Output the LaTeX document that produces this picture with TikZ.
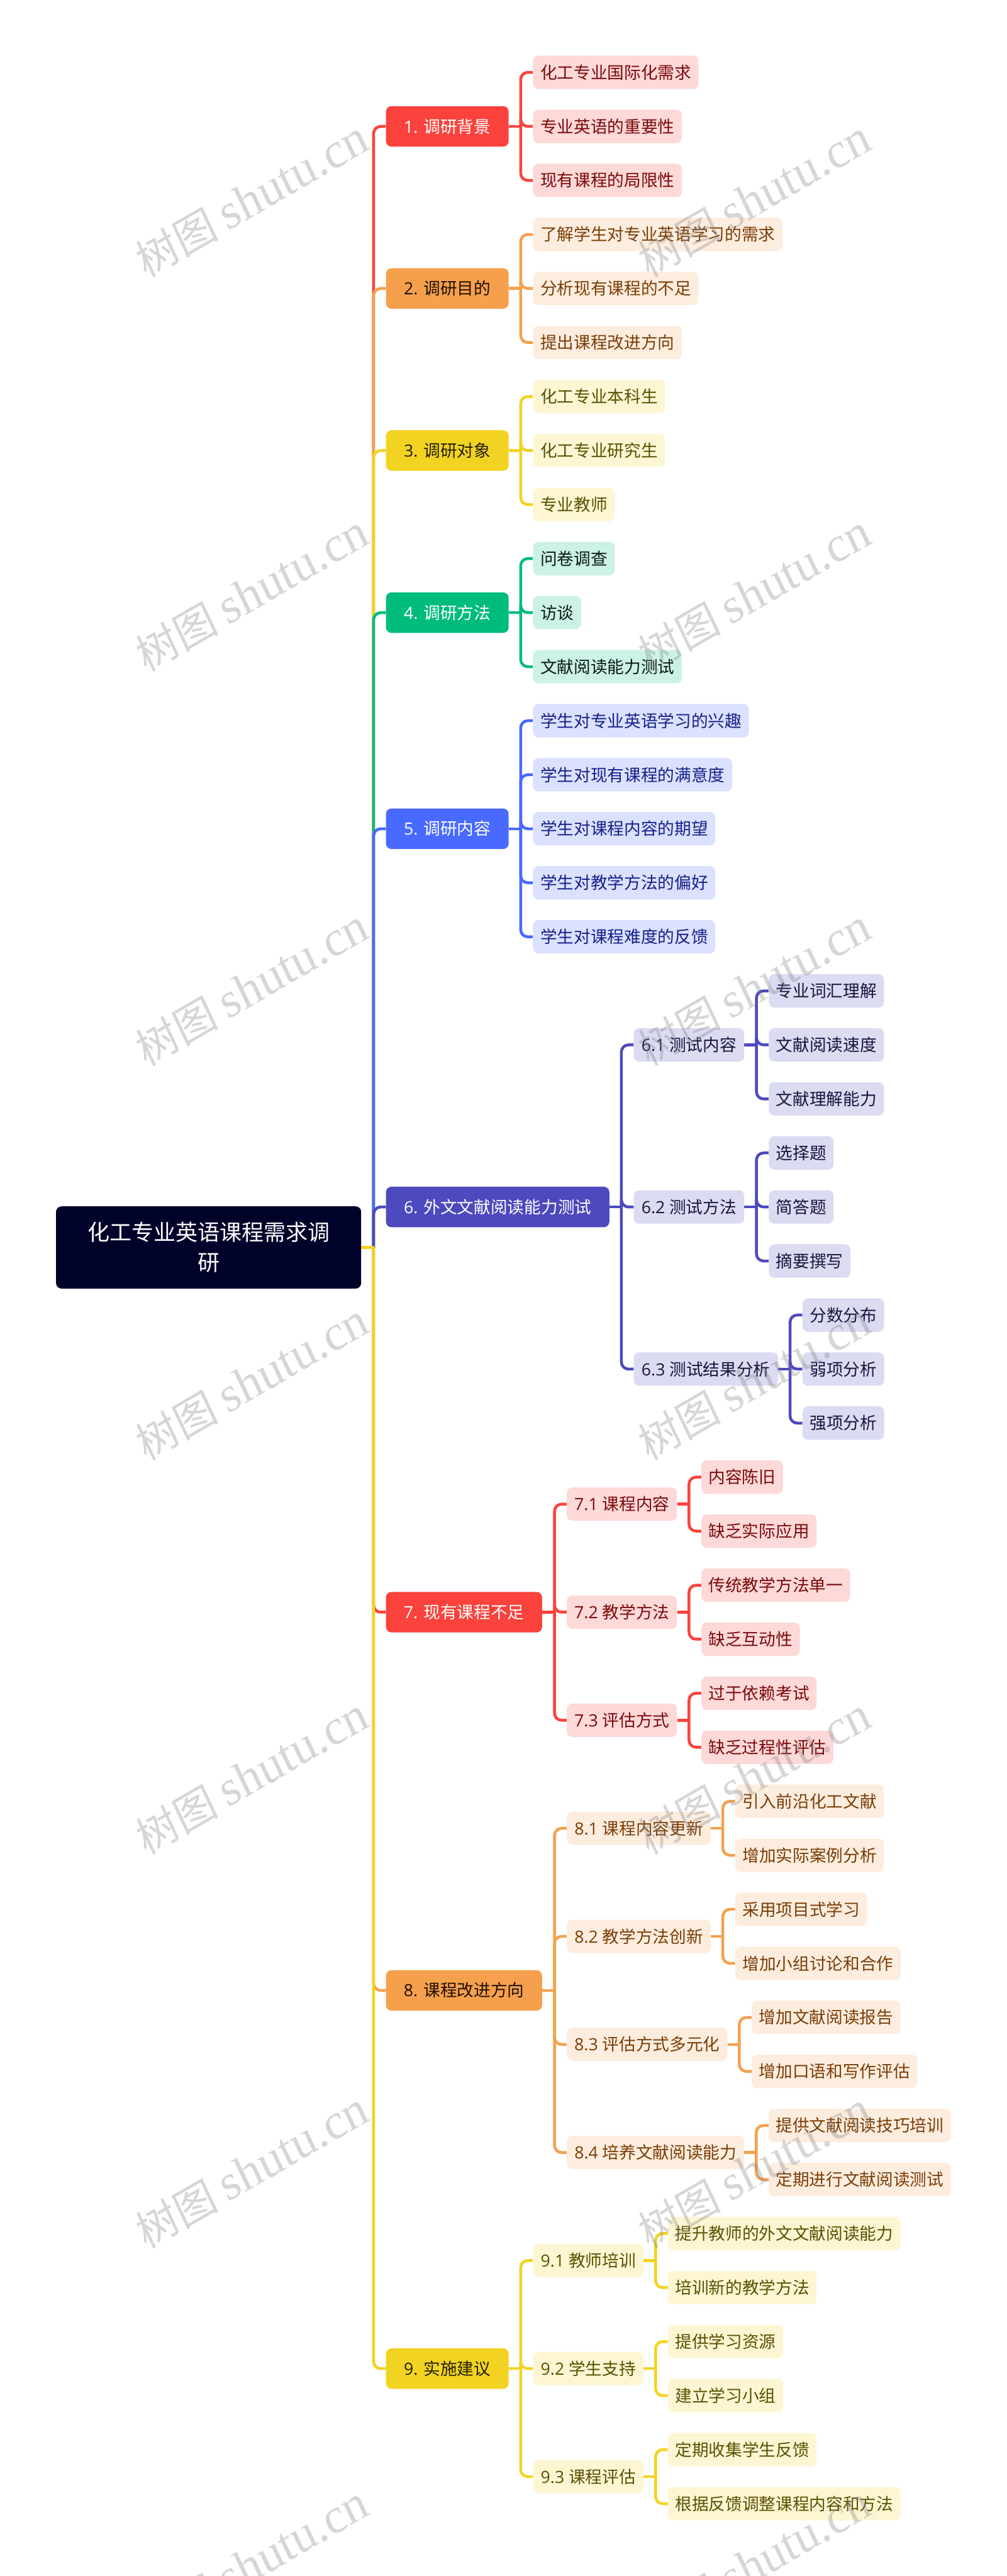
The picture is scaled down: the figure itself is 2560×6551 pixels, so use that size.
\documentclass[tikz,border=0pt]{standalone}
\usepackage{fontspec}
\setmainfont{Noto Sans CJK SC}
\newfontfamily\lat{Open Sans}
\newfontfamily\wmcjk[FakeSlant=0.08]{Noto Sans CJK SC}
\newfontfamily\wmlat[FakeSlant=0.08]{Liberation Serif}
\usetikzlibrary{calc,backgrounds}
\definecolor{cR}{HTML}{FB423C}\definecolor{lR}{HTML}{FDD9D8}\definecolor{tR}{HTML}{7A0A0A}
\definecolor{cO}{HTML}{F6A04D}\definecolor{lO}{HTML}{FDEDDF}\definecolor{tO}{HTML}{7A3D05}
\definecolor{cY}{HTML}{F3D321}\definecolor{lY}{HTML}{FCF6D3}\definecolor{tY}{HTML}{5B5000}
\definecolor{cG}{HTML}{00BC7B}\definecolor{lG}{HTML}{CCF2E5}\definecolor{tG}{HTML}{0A1A14}
\definecolor{cB}{HTML}{486AFF}\definecolor{lB}{HTML}{DBE1FE}\definecolor{tB}{HTML}{14208A}
\definecolor{cP}{HTML}{4D49BE}\definecolor{lP}{HTML}{DBDBF2}\definecolor{tP}{HTML}{16163F}
\definecolor{cRoot}{HTML}{000229}
\tikzset{
  base/.style={anchor=west,rounded corners=7pt,inner xsep=0pt,inner ysep=0pt,
    align=center,text height=18.77pt,text depth=2.56pt,font=\fontsize{21.33}{26}\selectfont},
  L1/.style n args={3}{base,fill=#1,text=#2,minimum width=#3*0.5pt,minimum height=51.5pt},
  L2/.style n args={3}{base,fill=#1,text=#2,minimum width=#3*0.5pt,minimum height=42.5pt},
  L3/.style 2 args={base,fill=#1,text=#2,inner xsep=9.25pt,minimum height=42.5pt},
  conn/.style={line width=3.6pt,line cap=butt,line join=round},
  wm/.style={anchor=base west,rotate=30,inner sep=0pt,text=black!50,text opacity=.32},
}
\newcommand{\lk}[3]{%
  \draw[conn,#1] (#2.east) -- ($(#2.east -| #3.west)+(-29.2,0)$);
  \draw[conn,#1,rounded corners=9pt] ($(#2.east -| #3.west)+(-31,0)$) |- (#3.west);
}
\newcommand{\rl}[2]{{\lat #1 }#2}
\begin{document}
\begin{tikzpicture}[x=0.5pt,y=-0.5pt]
\useasboundingbox (0,0) rectangle (2560,6551);

% root
\node[anchor=west,fill=cRoot,text=white,rounded corners=7pt,inner sep=0pt,minimum width=388pt,minimum height=104.5pt,align=center,
  font=\fontsize{28}{38.5}\selectfont] (root) at (142,3172.4) {化工专业英语课程需求调\\研};

% level 1
\node[L1={cR}{white}{312}] (a1) at (981,321.4) {\rl{1.}{调研背景}};
\node[L1={cO}{black!75!tO}{312}] (a2) at (981,733.6) {\rl{2.}{调研目的}};
\node[L1={cY}{black!60!tY}{312}] (a3) at (981,1145.8) {\rl{3.}{调研对象}};
\node[L1={cG}{white}{312}] (a4) at (981,1558) {\rl{4.}{调研方法}};
\node[L1={cB}{white}{312}] (a5) at (981,2107.6) {\rl{5.}{调研内容}};
\node[L1={cP}{white}{568}] (a6) at (981,3069.4) {\rl{6.}{外文文献阅读能力测试}};
\node[L1={cR}{white}{397}] (a7) at (981,4099.9) {\rl{7.}{现有课程不足}};
\node[L1={cO}{black!75!tO}{397}] (a8) at (981,5061.7) {\rl{8.}{课程改进方向}};
\node[L1={cY}{black!60!tY}{312}] (a9) at (981,6023.5) {\rl{9.}{实施建议}};

% leaves of 1-5
\node[L3={lR}{tR}] (b11) at (1355,184) {化工专业国际化需求};
\node[L3={lR}{tR}] (b12) at (1355,321.4) {专业英语的重要性};
\node[L3={lR}{tR}] (b13) at (1355,458.8) {现有课程的局限性};
\node[L3={lO}{tO}] (b21) at (1355,596.2) {了解学生对专业英语学习的需求};
\node[L3={lO}{tO}] (b22) at (1355,733.6) {分析现有课程的不足};
\node[L3={lO}{tO}] (b23) at (1355,871) {提出课程改进方向};
\node[L3={lY}{tY}] (b31) at (1355,1008.4) {化工专业本科生};
\node[L3={lY}{tY}] (b32) at (1355,1145.8) {化工专业研究生};
\node[L3={lY}{tY}] (b33) at (1355,1283.2) {专业教师};
\node[L3={lG}{tG}] (b41) at (1355,1420.6) {问卷调查};
\node[L3={lG}{tG}] (b42) at (1355,1558) {访谈};
\node[L3={lG}{tG}] (b43) at (1355,1695.4) {文献阅读能力测试};
\node[L3={lB}{tB}] (b51) at (1355,1832.8) {学生对专业英语学习的兴趣};
\node[L3={lB}{tB}] (b52) at (1355,1970.2) {学生对现有课程的满意度};
\node[L3={lB}{tB}] (b53) at (1355,2107.6) {学生对课程内容的期望};
\node[L3={lB}{tB}] (b54) at (1355,2245) {学生对教学方法的偏好};
\node[L3={lB}{tB}] (b55) at (1355,2382.4) {学生对课程难度的反馈};

% group 6
\node[L2={lP}{tP}{281}] (b61) at (1611,2657.2) {\rl{6.1}{测试内容}};
\node[L2={lP}{tP}{281}] (b62) at (1611,3069.4) {\rl{6.2}{测试方法}};
\node[L2={lP}{tP}{367}] (b63) at (1611,3481.6) {\rl{6.3}{测试结果分析}};
\node[L3={lP}{tP}] (c611) at (1954.5,2519.8) {专业词汇理解};
\node[L3={lP}{tP}] (c612) at (1954.5,2657.2) {文献阅读速度};
\node[L3={lP}{tP}] (c613) at (1954.5,2794.6) {文献理解能力};
\node[L3={lP}{tP}] (c621) at (1954.5,2932) {选择题};
\node[L3={lP}{tP}] (c622) at (1954.5,3069.4) {简答题};
\node[L3={lP}{tP}] (c623) at (1954.5,3206.8) {摘要撰写};
\node[L3={lP}{tP}] (c631) at (2040,3344.2) {分数分布};
\node[L3={lP}{tP}] (c632) at (2040,3481.6) {弱项分析};
\node[L3={lP}{tP}] (c633) at (2040,3619) {强项分析};

% group 7
\node[L2={lR}{tR}{280}] (b71) at (1441,3825.1) {\rl{7.1}{课程内容}};
\node[L2={lR}{tR}{280}] (b72) at (1441,4099.9) {\rl{7.2}{教学方法}};
\node[L2={lR}{tR}{280}] (b73) at (1441,4374.7) {\rl{7.3}{评估方式}};
\node[L3={lR}{tR}] (c711) at (1783,3756.4) {内容陈旧};
\node[L3={lR}{tR}] (c712) at (1783,3893.8) {缺乏实际应用};
\node[L3={lR}{tR}] (c721) at (1783,4031.2) {传统教学方法单一};
\node[L3={lR}{tR}] (c722) at (1783,4168.6) {缺乏互动性};
\node[L3={lR}{tR}] (c731) at (1783,4306) {过于依赖考试};
\node[L3={lR}{tR}] (c732) at (1783,4443.4) {缺乏过程性评估};

% group 8
\node[L2={lO}{tO}{366}] (b81) at (1441,4649.5) {\rl{8.1}{课程内容更新}};
\node[L2={lO}{tO}{366}] (b82) at (1441,4924.3) {\rl{8.2}{教学方法创新}};
\node[L2={lO}{tO}{408}] (b83) at (1441,5199.1) {\rl{8.3}{评估方式多元化}};
\node[L2={lO}{tO}{451}] (b84) at (1441,5473.9) {\rl{8.4}{培养文献阅读能力}};
\node[L3={lO}{tO}] (c811) at (1869,4580.8) {引入前沿化工文献};
\node[L3={lO}{tO}] (c812) at (1869,4718.2) {增加实际案例分析};
\node[L3={lO}{tO}] (c821) at (1869,4855.6) {采用项目式学习};
\node[L3={lO}{tO}] (c822) at (1869,4993) {增加小组讨论和合作};
\node[L3={lO}{tO}] (c831) at (1911,5130.4) {增加文献阅读报告};
\node[L3={lO}{tO}] (c832) at (1911,5267.8) {增加口语和写作评估};
\node[L3={lO}{tO}] (c841) at (1954,5405.2) {提供文献阅读技巧培训};
\node[L3={lO}{tO}] (c842) at (1954,5542.6) {定期进行文献阅读测试};

% group 9
\node[L2={lY}{tY}{281}] (b91) at (1355,5748.7) {\rl{9.1}{教师培训}};
\node[L2={lY}{tY}{281}] (b92) at (1355,6023.5) {\rl{9.2}{学生支持}};
\node[L2={lY}{tY}{281}] (b93) at (1355,6298.3) {\rl{9.3}{课程评估}};
\node[L3={lY}{tY}] (c911) at (1698,5680) {提升教师的外文文献阅读能力};
\node[L3={lY}{tY}] (c912) at (1698,5817.4) {培训新的教学方法};
\node[L3={lY}{tY}] (c921) at (1698,5954.8) {提供学习资源};
\node[L3={lY}{tY}] (c922) at (1698,6092.2) {建立学习小组};
\node[L3={lY}{tY}] (c931) at (1698,6229.6) {定期收集学生反馈};
\node[L3={lY}{tY}] (c932) at (1698,6367) {根据反馈调整课程内容和方法};

% connectors
\begin{pgfonlayer}{background}
\fill[white] (0,0) rectangle (2560,6551);
\foreach \n/\c in {1/cR,2/cO,3/cY,4/cG,5/cB,6/cP,7/cR,8/cO,9/cY}{\lk{\c}{root}{a\n}}
\foreach \n in {1,2,3}{\lk{cR}{a1}{b1\n}\lk{cO}{a2}{b2\n}\lk{cY}{a3}{b3\n}\lk{cG}{a4}{b4\n}\lk{cP}{a6}{b6\n}\lk{cR}{a7}{b7\n}\lk{cY}{a9}{b9\n}}
\foreach \n in {1,2,3,4,5}{\lk{cB}{a5}{b5\n}}
\foreach \n in {1,2,3,4}{\lk{cO}{a8}{b8\n}}
\foreach \n in {1,2,3}{\lk{cP}{b61}{c61\n}\lk{cP}{b62}{c62\n}\lk{cP}{b63}{c63\n}}
\foreach \n in {1,2}{\lk{cR}{b71}{c71\n}\lk{cR}{b72}{c72\n}\lk{cR}{b73}{c73\n}
  \lk{cO}{b81}{c81\n}\lk{cO}{b82}{c82\n}\lk{cO}{b83}{c83\n}\lk{cO}{b84}{c84\n}
  \lk{cY}{b91}{c91\n}\lk{cY}{b92}{c92\n}\lk{cY}{b93}{c93\n}}
\end{pgfonlayer}

% watermark
\foreach \r in {0,...,6}{
  \foreach \c in {0,1}{
    \node[wm] (wm\r\c) at ({372+1278*\c},{708+1002.6*\r}) {\fontsize{54}{60}\selectfont\wmcjk 树图 \fontsize{62.5}{60}\selectfont\wmlat shutu.cn};
  }
}
\end{tikzpicture}
\end{document}
